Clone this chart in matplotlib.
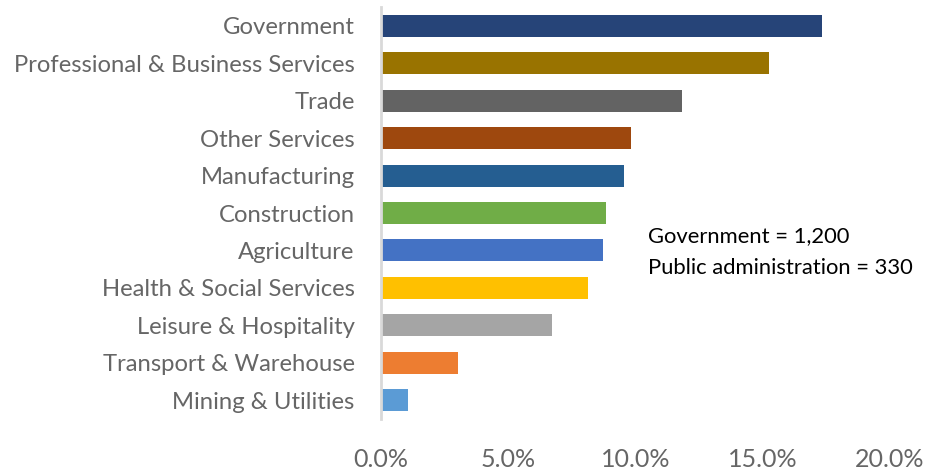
import matplotlib
matplotlib.use("Agg")
import matplotlib.pyplot as plt
from matplotlib.ticker import FuncFormatter

# sector shares of employment, top to bottom
sectors = ["Government", "Professional & Business Services", "Trade",
           "Other Services", "Manufacturing", "Construction", "Agriculture",
           "Health & Social Services", "Leisure & Hospitality",
           "Transport & Warehouse", "Mining & Utilities"]
shares = [17.3, 15.2, 11.8, 9.8, 9.5, 8.8, 8.7, 8.1, 6.7, 3.0, 1.05]
colors = ["#264478", "#997300", "#636363", "#9E480E", "#255E91", "#70AD47",
          "#4472C4", "#FFC000", "#A5A5A5", "#ED7D31", "#5B9BD5"]
note_lines = ["Government = 1,200", "Public administration = 330"]

plt.rcParams['font.family'] = ['Lato', 'DejaVu Sans']

fig = plt.figure(figsize=(9.26, 4.70), dpi=100)
ax = fig.add_axes([0.4114, 0.109, 0.5497, 0.8755])

pos = list(range(len(sectors)))
ax.barh(pos, shares, height=0.59, color=colors, left=0.03)
ax.set_ylim(len(sectors) - 0.5, -0.5)
ax.set_xlim(0, 20)
ax.set_xticks([0, 5, 10, 15, 20])
ax.xaxis.set_major_formatter(FuncFormatter(lambda v, p: f"{v:.1f}%"))
ax.set_yticks(pos)
ax.set_yticklabels(sectors)

for s in ["top", "right", "bottom"]:
    ax.spines[s].set_visible(False)
ax.spines["left"].set_color("#d9d9d9")
ax.spines["left"].set_linewidth(2)

ax.tick_params(axis="both", length=0, colors="#666666")
ax.tick_params(axis="y", labelsize=17.2, pad=19)
ax.tick_params(axis="x", labelsize=18, pad=21)

fig.text(648 / 926, 1 - 236 / 470, note_lines[0], fontsize=15.8, color="black", va="center")
fig.text(648 / 926, 1 - 268 / 470, note_lines[1], fontsize=15.8, color="black", va="center")

fig.savefig("out.png", dpi=100)
